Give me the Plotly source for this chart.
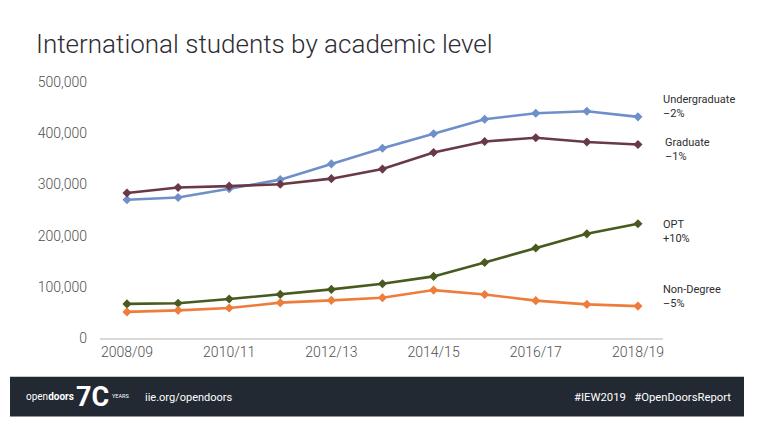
import plotly.graph_objects as go

years = ["2008/09", "2009/10", "2010/11", "2011/12", "2012/13", "2013/14",
         "2014/15", "2015/16", "2016/17", "2017/18", "2018/19"]
tick_labels = ["2008/09", "2010/11", "2012/13", "2014/15", "2016/17", "2018/19"]

undergraduate = [269874, 274431, 291439, 309342, 339993, 370724, 398824, 427313, 439019, 442746, 431930]
graduate = [283329, 293885, 296574, 300430, 311204, 329854, 362228, 383935, 391124, 382953, 377943]
opt = [66601, 67804, 76031, 85157, 94919, 105997, 120287, 147498, 175695, 203462, 223085]
non_degree = [51000, 54000, 58500, 69000, 73500, 78500, 93587, 85093, 72984, 65631, 62341]

series_names = ["Undergraduate", "Graduate", "OPT", "Non-Degree"]
series_changes = ["\u20132%", "\u20131%", "+10%", "\u20135%"]
series_colors = ["#6f8fca", "#6a3947", "#485a1f", "#ee7d3b"]
series_values = [undergraduate, graduate, opt, non_degree]

# page body has an 8px margin: draw the figure 8px smaller and shift coordinates
OFF = 8
W, H = 758 - OFF, 425 - OFF
L, R, T, B = 100 - OFF, 663 - OFF, 82 - OFF, 338.3 - OFF

def px(x):
    return (x - OFF - L) / (R - L)

def py(y):
    return (B - (y - OFF)) / (B - T)

xs = list(range(len(years)))
fig = go.Figure()
for name, vals, col in zip(series_names, series_values, series_colors):
    fig.add_trace(go.Scatter(
        x=xs, y=vals, mode="lines+markers", name=name,
        line=dict(color=col, width=2.6),
        marker=dict(symbol="diamond", size=7, color=col),
        hoverinfo="x+y",
    ))

fam = "Roboto, sans-serif"

# series labels on the right
label_pos = [(661, 107), (663, 150), (661, 232), (661, 297)]
for (lx, ly), nm, ch in zip(label_pos, series_names, series_changes):
    fig.add_annotation(x=px(lx), y=py(ly), xref="paper", yref="paper",
                       xanchor="left", yanchor="middle", showarrow=False,
                       align="left", text=nm + "<br>" + ch,
                       font=dict(family=fam, size=11, color="#2e2e2e"))

# title
fig.add_annotation(x=px(34), y=py(44), xref="paper", yref="paper",
                   xanchor="left", yanchor="middle", showarrow=False,
                   text="International students by academic level",
                   font=dict(family=fam, size=26, color="#2d2d33", weight=300))

# footer band
fig.add_shape(type="rect", xref="paper", yref="paper",
              x0=px(10), x1=px(744), y0=py(377), y1=py(417),
              fillcolor="#222932", line=dict(width=0), layer="above")
fig.add_annotation(x=px(24), y=py(397), xref="paper", yref="paper",
                   xanchor="left", yanchor="middle", showarrow=False,
                   text="open<b>doors</b>",
                   font=dict(family=fam, size=10, color="white"))
fig.add_annotation(x=px(74), y=py(397), xref="paper", yref="paper",
                   xanchor="left", yanchor="middle", showarrow=False,
                   text="<b>7C</b>",
                   font=dict(family=fam, size=27, color="white"))
fig.add_annotation(x=px(110), y=py(396), xref="paper", yref="paper",
                   xanchor="left", yanchor="middle", showarrow=False,
                   text="YEARS",
                   font=dict(family=fam, size=5.5, color="white"))
fig.add_annotation(x=px(143), y=py(398), xref="paper", yref="paper",
                   xanchor="left", yanchor="middle", showarrow=False,
                   text="iie.org/opendoors",
                   font=dict(family=fam, size=11, color="white"))
fig.add_annotation(x=px(733), y=py(398), xref="paper", yref="paper",
                   xanchor="right", yanchor="middle", showarrow=False,
                   text="#IEW2019&nbsp;&nbsp;&nbsp;#OpenDoorsReport",
                   font=dict(family=fam, size=11.3, color="white"))

fig.update_layout(
    width=W, height=H,
    margin=dict(l=L, r=W - R, t=T, b=H - B, pad=0),
    paper_bgcolor="white", plot_bgcolor="white",
    showlegend=False,
    font=dict(family=fam, color="#555555", size=13),
)
fig.update_xaxes(
    range=[-0.528, 10.49], tickmode="array",
    tickvals=[years.index(t) for t in tick_labels], ticktext=tick_labels,
    showgrid=False, zeroline=False, showline=True, linecolor="#d9d9d9", linewidth=2,
    ticks="", tickfont=dict(family=fam, size=14, color="#505050", weight=300),
)
fig.update_yaxes(
    range=[0, 500000], tickvals=[0, 100000, 200000, 300000, 400000, 500000],
    tickformat=",", showgrid=False, zeroline=False, showline=False, ticks="",
    ticklabelstandoff=12,
    tickfont=dict(family=fam, size=14, color="#505050", weight=300),
)

fig.write_html("out.html")
